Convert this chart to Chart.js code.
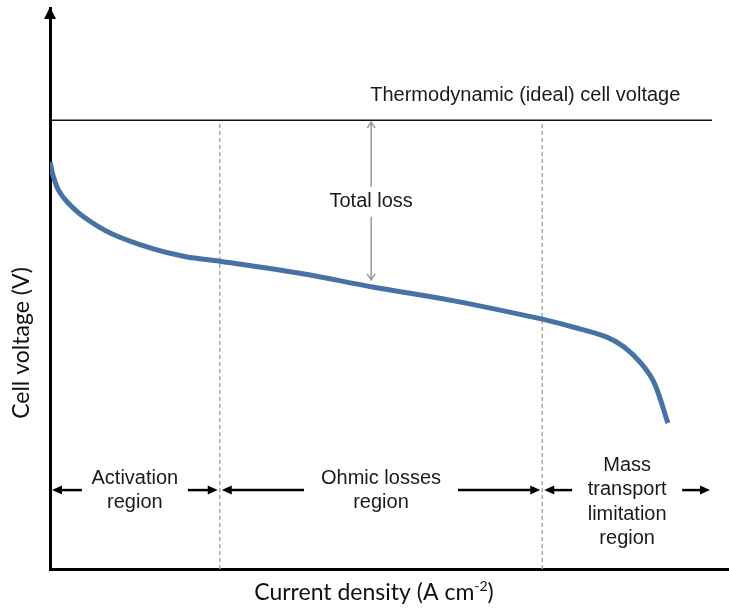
<!DOCTYPE html>
<html>
<head>
<meta charset="utf-8">
<script src="https://cdn.jsdelivr.net/npm/chart.js@4"></script>
<style>
  html, body { margin: 0; padding: 0; background: #fff; }
  #wrap { width: 729px; height: 610px; }
</style>
</head>
<body>
<div id="wrap"><canvas id="polChart"></canvas></div>
<script>
// polarization curve
const currentDensity = [0, 0.01, 0.025, 0.05, 0.1, 0.18, 0.3, 0.4, 0.5, 0.74, 0.95, 1.19, 1.45, 1.54, 1.64, 1.69, 1.74, 1.78, 1.82];
const cellVoltage = [1.088, 1.049, 1.013, 0.982, 0.941, 0.897, 0.857, 0.835, 0.823, 0.790, 0.754, 0.717, 0.668, 0.647, 0.620, 0.594, 0.551, 0.497, 0.390];
const idealVoltage = 1.2;
const regionBounds = [0, 0.5, 1.45, 1.95];
const regionLabels = [["Activation", "region"], ["Ohmic losses", "region"], ["Mass", "transport", "limitation", "region"]];
const lossAt = 0.946;

const labelFont = "20px 'Liberation Sans', Arial, sans-serif";
const titleFont = "23px Lato, 'Open Sans', sans-serif";
const supFont = "14px Lato, 'Open Sans', sans-serif";

function arrowLine(ctx, x1, y, x2) {
    const dir = x2 > x1 ? 1 : -1;
    ctx.beginPath();
    ctx.moveTo(x1, y);
    ctx.lineTo(x2 - dir * 6, y);
    ctx.stroke();
    ctx.beginPath();
    ctx.moveTo(x2, y);
    ctx.lineTo(x2 - dir * 10, y - 4.5);
    ctx.lineTo(x2 - dir * 10, y + 4.5);
    ctx.closePath();
    ctx.fill();
}

const annotations = {
    id: "annotations",
    afterDraw(chart) {
        const ctx = chart.ctx;
        const xs = chart.scales.x;
        const ys = chart.scales.y;
        const area = chart.chartArea;
        ctx.save();

        // y axis arrow head
        ctx.fillStyle = "#000";
        ctx.beginPath();
        ctx.moveTo(area.left, area.top - 1);
        ctx.lineTo(area.left - 6, area.top + 11);
        ctx.lineTo(area.left + 6, area.top + 11);
        ctx.closePath();
        ctx.fill();

        // total loss double arrow
        const lx = xs.getPixelForValue(lossAt);
        const yTop = ys.getPixelForValue(idealVoltage) + 2;
        const yBot = ys.getPixelForValue(0.773);
        ctx.strokeStyle = "#9a9a9a";
        ctx.lineWidth = 1.5;
        ctx.beginPath();
        ctx.moveTo(lx, yTop);
        ctx.lineTo(lx, yBot);
        ctx.moveTo(lx - 4, yTop + 6);
        ctx.lineTo(lx, yTop);
        ctx.lineTo(lx + 4, yTop + 6);
        ctx.moveTo(lx - 4, yBot - 6);
        ctx.lineTo(lx, yBot);
        ctx.lineTo(lx + 4, yBot - 6);
        ctx.stroke();

        ctx.font = labelFont;
        ctx.textAlign = "center";
        ctx.textBaseline = "middle";
        const ly = ys.getPixelForValue(0.982);
        ctx.fillStyle = "#fff";
        ctx.fillRect(lx - 48, ly - 15, 96, 30);
        ctx.fillStyle = "#1a1a1a";
        ctx.fillText("Total loss", lx, ly);

        ctx.fillText("Thermodynamic (ideal) cell voltage", xs.getPixelForValue(1.4), ys.getPixelForValue(1.267));

        // region arrows and labels
        const ay = ys.getPixelForValue(0.211);
        const gaps = [53, 77, 55];
        const firstLine = [-12, -12, -25];
        ctx.strokeStyle = "#000";
        ctx.lineWidth = 2.5;
        for (let i = 0; i < regionLabels.length; i++) {
            const a = xs.getPixelForValue(regionBounds[i]);
            const b = xs.getPixelForValue(regionBounds[i + 1]);
            const c = (a + b) / 2;
            ctx.fillStyle = "#000";
            arrowLine(ctx, c - gaps[i], ay, a + 2);
            arrowLine(ctx, c + gaps[i], ay, b - 2);
            ctx.fillStyle = "#1a1a1a";
            regionLabels[i].forEach((t, k) => {
                ctx.fillText(t, c, ay + firstLine[i] + k * 24.5);
            });
        }

        // axis titles
        ctx.fillStyle = "#111";
        ctx.textAlign = "left";
        ctx.textBaseline = "alphabetic";
        const main = "Current density (A cm";
        const sup = "-2";
        ctx.font = titleFont;
        const wMain = ctx.measureText(main).width;
        const wEnd = ctx.measureText(")").width;
        ctx.font = supFont;
        const wSup = ctx.measureText(sup).width;
        let tx = 374 - (wMain + wSup + wEnd) / 2;
        const ty = 600;
        ctx.font = titleFont;
        ctx.fillText(main, tx, ty);
        tx += wMain;
        ctx.font = supFont;
        ctx.fillText(sup, tx, ty - 9);
        tx += wSup;
        ctx.font = titleFont;
        ctx.fillText(")", tx, ty);

        ctx.translate(22, 343);
        ctx.rotate(-Math.PI / 2);
        ctx.textAlign = "center";
        ctx.textBaseline = "middle";
        ctx.fillText("Cell voltage (V)", 0, 0);

        ctx.restore();
    }
};

new Chart(document.getElementById("polChart"), {
    type: "line",
    data: {
        datasets: [
            {
                label: "Cell voltage",
                data: currentDensity.map((x, i) => ({ x: x, y: cellVoltage[i] })),
                borderColor: "#4673a3",
                borderWidth: 5,
                pointRadius: 0,
                tension: 0.35,
            },
            {
                label: "Ideal",
                data: [{ x: regionBounds[0], y: idealVoltage }, { x: regionBounds[3], y: idealVoltage }],
                borderColor: "#111",
                borderWidth: 1.5,
                pointRadius: 0,
            },
            {
                label: "Boundary 1",
                data: [{ x: regionBounds[1], y: 0 }, { x: regionBounds[1], y: idealVoltage }],
                borderColor: "#a8a8a8",
                borderWidth: 1.5,
                borderDash: [4, 3],
                pointRadius: 0,
            },
            {
                label: "Boundary 2",
                data: [{ x: regionBounds[2], y: 0 }, { x: regionBounds[2], y: idealVoltage }],
                borderColor: "#a8a8a8",
                borderWidth: 1.5,
                borderDash: [4, 3],
                pointRadius: 0,
            },
        ],
    },
    options: {
        responsive: true,
        maintainAspectRatio: false,
        animation: false,
        layout: { padding: { top: 8, right: 0, left: 0, bottom: 0 } },
        plugins: { legend: { display: false }, tooltip: { enabled: false } },
        scales: {
            x: {
                type: "linear",
                min: 0,
                max: 2,
                ticks: { display: false },
                grid: { display: false },
                border: { display: true, color: "#000", width: 3 },
                afterFit: (s) => { s.height = 41; },
            },
            y: {
                type: "linear",
                min: 0,
                max: 1.5,
                ticks: { display: false },
                grid: { display: false },
                border: { display: true, color: "#000", width: 3 },
                afterFit: (s) => { s.width = 50; },
            },
        },
    },
    plugins: [annotations],
});
</script>
</body>
</html>
